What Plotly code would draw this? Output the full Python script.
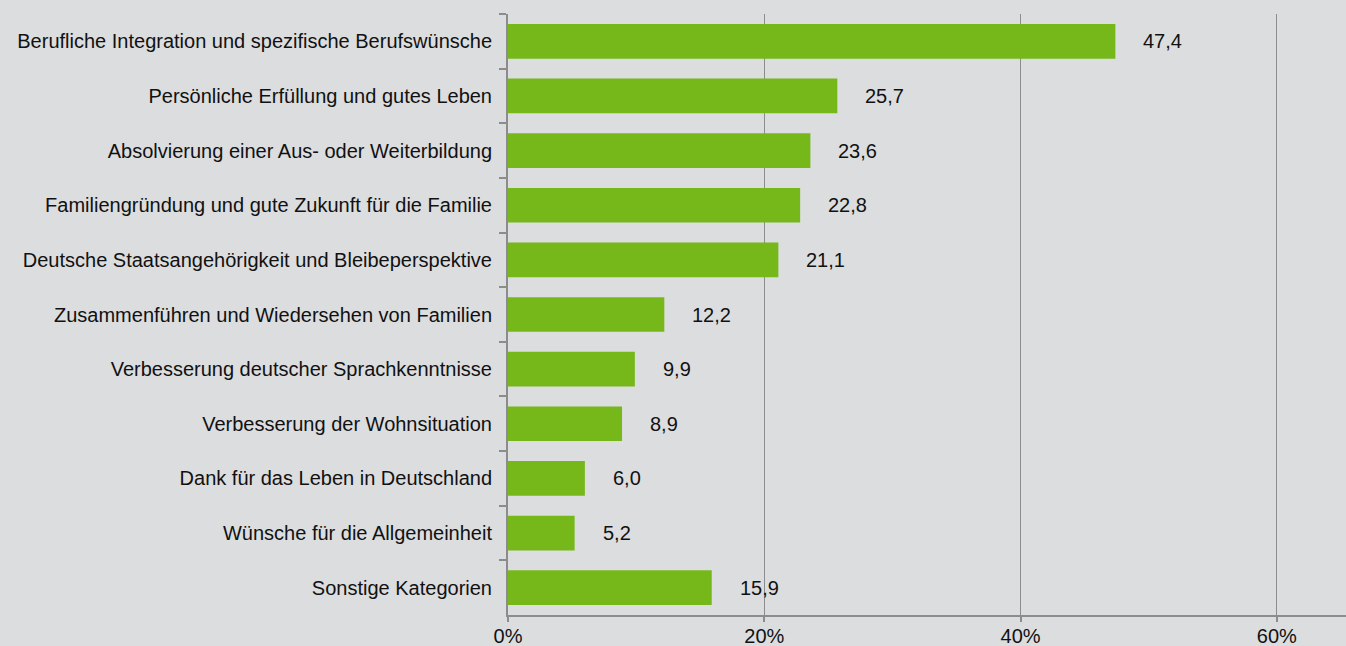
import plotly.graph_objects as go

categories = [
    "Berufliche Integration und spezifische Berufswünsche",
    "Persönliche Erfüllung und gutes Leben",
    "Absolvierung einer Aus- oder Weiterbildung",
    "Familiengründung und gute Zukunft für die Familie",
    "Deutsche Staatsangehörigkeit und Bleibeperspektive",
    "Zusammenführen und Wiedersehen von Familien",
    "Verbesserung deutscher Sprachkenntnisse",
    "Verbesserung der Wohnsituation",
    "Dank für das Leben in Deutschland",
    "Wünsche für die Allgemeinheit",
    "Sonstige Kategorien",
]
values = [47.4, 25.7, 23.6, 22.8, 21.1, 12.2, 9.9, 8.9, 6.0, 5.2, 15.9]
value_labels = [f"{v:.1f}".replace(".", ",") for v in values]
tick_vals = [0, 20, 40, 60]
tick_text = ["0%", "20%", "40%", "60%"]

BG = "#dcdddf"
GREEN = "#76b81a"
GRID = "#8c8c8c"
FONT = "Liberation Sans, Arial, sans-serif"
FS = 20

fig = go.Figure()
fig.add_trace(go.Bar(
    x=values, y=categories, orientation="h",
    marker=dict(color=GREEN, line=dict(width=0)),
    width=0.635,
    hoverinfo="skip",
))

for c, v, t in zip(categories, values, value_labels):
    fig.add_annotation(x=v, y=c, text=t, showarrow=False, xanchor="left",
                       xshift=26, font=dict(size=FS, color="#111111", family=FONT))

fig.update_layout(
    width=1346, height=646,
    margin=dict(l=508, r=0, t=14, b=31, autoexpand=False),
    paper_bgcolor=BG, plot_bgcolor=BG,
    showlegend=False,
    font=dict(family=FONT, size=FS, color="#111111"),
    xaxis=dict(
        range=[0, 65.4], tickvals=tick_vals, ticktext=tick_text,
        showgrid=True, gridcolor=GRID, gridwidth=1,
        showline=True, linecolor=GRID, linewidth=2,
        ticks="outside", ticklen=5, tickcolor=GRID, tickwidth=2,
        zeroline=False, fixedrange=True, automargin=False,
        ticklabelstandoff=-3,
        tickfont=dict(size=FS, color="#111111"),
    ),
    yaxis=dict(
        categoryorder="array", categoryarray=categories, autorange="reversed",
        showline=True, linecolor=GRID, linewidth=2,
        ticks="outside", tickson="boundaries", ticklen=7, tickcolor=GRID, tickwidth=2,
        showgrid=False, zeroline=False, fixedrange=True, automargin=False,
        ticklabelstandoff=10,
        tickfont=dict(size=FS, color="#111111"),
    ),
)

fig.write_html("out.html", config={"displayModeBar": False},
               post_script="document.body.style.margin='0';document.body.style.overflow='hidden';")
